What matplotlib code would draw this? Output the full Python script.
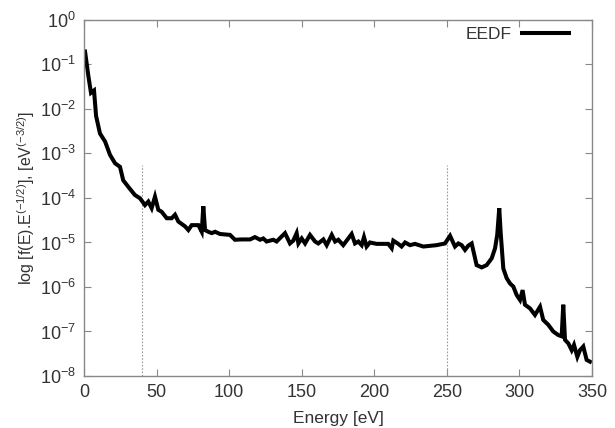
import numpy as np
import matplotlib
matplotlib.use("Agg")
from matplotlib import pyplot as plt
from matplotlib.ticker import LogLocator, FixedLocator

plt.rcParams['font.family'] = ['Liberation Sans', 'DejaVu Sans']
plt.rcParams['mathtext.default'] = 'regular'

# EEDF
energy = [0.7, 3.0, 4.8, 6.9, 8.3, 11.0, 14.5, 17.9, 21.4, 24.8, 27.0, 30.5, 35.0,
          38.6, 42.0, 44.3, 46.6, 48.9, 51.2, 53.5, 57.0, 60.4, 62.7, 65.0, 69.6,
          71.9, 74.2, 78.8, 81.1, 82.2, 83.4, 85.6, 88.0, 90.3, 93.7, 100.6, 104.0,
          108.6, 114.4, 117.8, 121.3, 123.5, 125.8, 130.4, 132.7, 138.5, 141.9,
          144.2, 146.5, 147.7, 150.0, 152.3, 155.7, 159.2, 161.4, 164.9, 167.2,
          170.7, 173.0, 175.2, 178.6, 184.4, 186.7, 189.0, 191.3, 192.9, 194.7,
          197.0, 201.6, 209.6, 212.0, 213.1, 216.5, 218.8, 221.2, 224.6, 228.0,
          233.8, 243.0, 248.7, 252.2, 255.6, 257.9, 260.2, 262.5, 264.8, 267.1,
          270.5, 274.0, 277.4, 280.9, 283.2, 284.7, 286.1, 287.1, 288.9, 291.2,
          293.5, 295.8, 298.1, 300.4, 302.2, 303.8, 307.3, 310.7, 314.2, 316.4,
          319.9, 323.3, 326.8, 329.1, 330.2, 331.4, 333.7, 336.0, 337.6, 339.9,
          341.7, 344.0, 346.3, 348.6]
eedf = [1.95e-1, 5.5e-2, 2.3e-2, 2.6e-2, 7.0e-3, 2.8e-3, 1.86e-3, 9.3e-4, 6.0e-4,
        5.0e-4, 2.5e-4, 1.78e-4, 1.17e-4, 9.8e-5, 6.9e-5, 8.3e-5, 5.9e-5, 1.07e-4,
        5.4e-5, 4.9e-5, 3.5e-5, 3.5e-5, 4.2e-5, 2.95e-5, 2.3e-5, 1.9e-5, 2.45e-5,
        2.45e-5, 1.74e-5, 6.5e-5, 1.9e-5, 1.74e-5, 1.62e-5, 1.74e-5, 1.55e-5,
        1.48e-5, 1.15e-5, 1.17e-5, 1.17e-5, 1.32e-5, 1.15e-5, 1.23e-5, 1.05e-5,
        1.15e-5, 1.05e-5, 1.62e-5, 9.5e-6, 1.1e-5, 1.62e-5, 9.5e-6, 1.23e-5,
        9.5e-6, 1.48e-5, 1.05e-5, 9.5e-6, 1.17e-5, 8.7e-6, 1.48e-5, 1.05e-5,
        1.15e-5, 8.7e-6, 1.55e-5, 9.5e-6, 1.05e-5, 8.7e-6, 1.32e-5, 8.1e-6,
        1.0e-5, 9.3e-6, 9.3e-6, 7.4e-6, 1.1e-5, 9.3e-6, 8.1e-6, 1.0e-5, 8.7e-6,
        9.3e-6, 8.1e-6, 8.7e-6, 9.5e-6, 1.41e-5, 8.1e-6, 9.5e-6, 8.7e-6, 6.8e-6,
        8.5e-6, 9.5e-6, 3.1e-6, 2.75e-6, 3.1e-6, 4.4e-6, 7.4e-6, 1.48e-5, 5.9e-5,
        1.62e-5, 2.6e-6, 1.58e-6, 1.2e-6, 1.02e-6, 6.6e-7, 5.1e-7, 8.5e-7, 4.0e-7,
        3.3e-7, 2.35e-7, 3.6e-7, 1.82e-7, 1.41e-7, 1.0e-7, 8.3e-8, 7.8e-8, 4.0e-7,
        6.5e-8, 5.4e-8, 3.8e-8, 5.0e-8, 2.7e-8, 3.8e-8, 4.6e-8, 2.3e-8, 2.1e-8]

marker_energies = [40, 250]
marker_top = 5.5e-4

fig = plt.figure(figsize=(6.15, 4.28), dpi=100)
ax = fig.add_axes([0.1366, 0.1215, 0.826, 0.832])

ax.vlines(marker_energies, 1e-8, marker_top, colors='#999999',
          linestyles=(0, (1.5, 1.5)), linewidth=0.8)
ax.plot(energy, eedf, color='black', linewidth=2.9, label='EEDF',
        solid_joinstyle='miter')

ax.set_yscale('log')
ax.set_xlim(0, 350)
ax.set_ylim(1e-8, 1)
ax.xaxis.set_major_locator(FixedLocator([0, 50, 100, 150, 200, 250, 300, 350]))
ax.yaxis.set_major_locator(LogLocator(base=10, numticks=12))
ax.yaxis.set_minor_locator(FixedLocator([]))

for s in ax.spines.values():
    s.set_color('#888888')
    s.set_linewidth(1.0)
ax.tick_params(direction='in', top=True, right=True, length=5, width=0.8,
               color='#888888', labelsize=13, labelcolor='#333333', pad=6)

ax.set_xlabel('Energy [eV]', fontsize=12.5, color='#333333', labelpad=7)
ax.set_ylabel('log [f(E).E$^{(-1/2)}$], [eV$^{(-3/2)}$]', fontsize=11.5,
              color='#333333', labelpad=2)

leg = ax.legend(loc='upper right', frameon=False, markerfirst=False,
                handlelength=2.7, fontsize=12.5, borderaxespad=0.1,
                borderpad=0.2, handletextpad=0.6,
                bbox_to_anchor=(0.965, 0.995))
for t in leg.get_texts():
    t.set_color('#333333')

fig.savefig('out.png', dpi=100)
